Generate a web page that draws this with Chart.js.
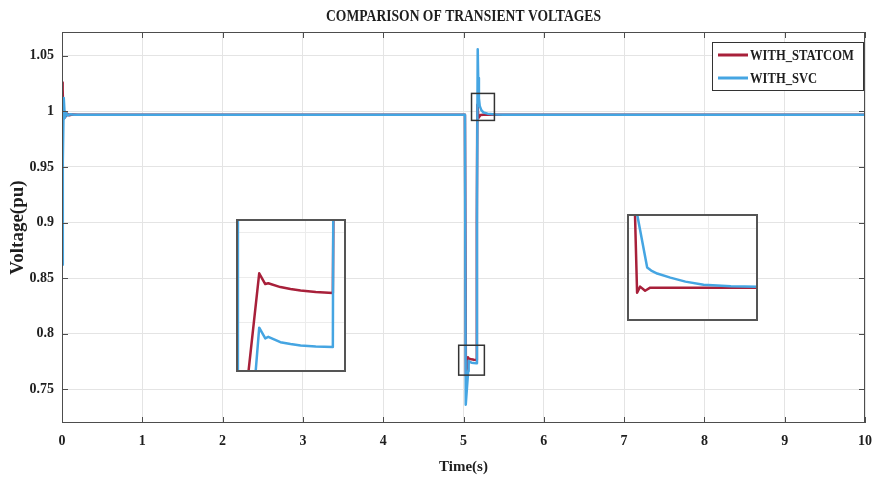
<!DOCTYPE html>
<html><head><meta charset="utf-8">
<script src="https://cdn.jsdelivr.net/npm/chart.js@4.4.1/dist/chart.umd.min.js"></script>
<style>
html,body{margin:0;padding:0;background:#fff;}
#wrap{position:relative;width:882px;height:481px;overflow:hidden;}
#main{position:absolute;left:0;top:0;}
#insetA{position:absolute;left:236px;top:219px;}
#insetB{position:absolute;left:627px;top:214px;}
</style></head><body>
<div id="wrap">
<canvas id="main" width="882" height="481"></canvas>
<canvas id="insetA" width="110" height="153"></canvas>
<canvas id="insetB" width="131" height="107"></canvas>
</div>
<script>
// ---------- data ----------
const chartTitle = 'COMPARISON OF TRANSIENT VOLTAGES';
const seriesNames = ['WITH_STATCOM', 'WITH_SVC'];
const xTitle = 'Time(s)';
const yTitle = 'Voltage(pu)';
const xTicks = [0, 1, 2, 3, 4, 5, 6, 7, 8, 9, 10];
const yTicks = [0.75, 0.8, 0.85, 0.9, 0.95, 1, 1.05];

const tStatcom = [0, 0.008, 0.018, 0.03, 0.045, 0.065, 0.09, 0.13, 0.2, 1, 2, 3, 4, 5.018, 5.03, 5.045, 5.056, 5.064, 5.07, 5.1, 5.13, 5.16, 5.166, 5.172, 5.178, 5.186, 5.193, 5.2, 5.212, 5.25, 6, 7, 8, 9, 10];
const vStatcom = [1.026, 1.02, 0.993, 1.0, 0.9955, 0.998, 0.9965, 0.9972, 0.997, 0.997, 0.997, 0.997, 0.997, 0.997, 0.762, 0.772, 0.7787, 0.7772, 0.7774, 0.7768, 0.7764, 0.7762, 0.9, 1.006, 1.002, 0.9945, 0.9965, 0.9955, 0.9968, 0.997, 0.997, 0.997, 0.997, 0.997, 0.997];

const tSvc = [0, 0.01, 0.022, 0.035, 0.05, 0.07, 0.1, 0.15, 0.25, 1, 2, 3, 4, 5.018, 5.028, 5.058, 5.064, 5.07, 5.077, 5.1, 5.13, 5.16, 5.168, 5.177, 5.183, 5.192, 5.202, 5.222, 5.25, 5.3, 5.4, 5.5, 6, 7, 8, 9, 10];
const vSvc = [0.862, 0.955, 1.012, 0.994, 0.999, 0.9963, 0.9975, 0.997, 0.997, 0.997, 0.997, 0.997, 0.997, 0.997, 0.736, 0.766, 0.7755, 0.7742, 0.7745, 0.7738, 0.7735, 0.7733, 0.92, 1.056, 1.03, 1.012, 1.005, 1.0012, 0.999, 0.998, 0.9973, 0.997, 0.997, 0.997, 0.997, 0.997, 0.997];

// inset A: magnified fault period
const insetAxRange = [5.0, 5.2];
const insetAyRange = [0.765, 0.785];
const tInsetAStatcom = [5.015, 5.0422, 5.0532, 5.0587, 5.0807, 5.0991, 5.1174, 5.145, 5.1761, 5.1775];
const vInsetAStatcom = [0.760, 0.7779, 0.7765, 0.7766, 0.7761, 0.77585, 0.77565, 0.77546, 0.77533, 0.790];
const tInsetASvc = [5.003, 5.0035, 5.03, 5.0422, 5.0532, 5.0587, 5.0807, 5.0991, 5.1174, 5.145, 5.1761, 5.177];
const vInsetASvc = [0.790, 0.760, 0.760, 0.7708, 0.7694, 0.7696, 0.7689, 0.76866, 0.76846, 0.76833, 0.76827, 0.790];
const insetAGridX = [5.1266];
const insetAGridY = [0.7715, 0.7774, 0.7833];

// inset B: magnified recovery
const insetBxRange = [5.15, 5.45];
const insetByRange = [0.99, 1.01];
const tInsetBStatcom = [5.165, 5.1731, 5.18, 5.1915, 5.2031, 5.26, 5.45];
const vInsetBStatcom = [1.02, 0.99528, 0.99642, 0.99566, 0.99623, 0.99623, 0.99623];
const tInsetBSvc = [5.1708, 5.1731, 5.1962, 5.2054, 5.2192, 5.2492, 5.2838, 5.3254, 5.3877, 5.45];
const vInsetBSvc = [1.011, 1.01, 1.0, 0.99943, 0.99887, 0.99811, 0.99736, 0.99679, 0.99651, 0.99642];
const insetBGridX = [5.337];
const insetBGridY = [0.99887, 1.00736];

// zoom markers [tMin, tMax, vMin, vMax]
const zoomBoxFault = [4.94, 5.26, 0.7626, 0.7895];
const zoomBoxRecovery = [5.10, 5.385, 0.9919, 1.0162];

// ---------- styling ----------
const SERIF = "'Liberation Serif', 'Times New Roman', serif";
const RED = '#a8203a';
const BLUE = '#45a5e2';
const TEXT = '#1e1e1e';

function pts(t, v) { return t.map((x, i) => ({ x: x, y: v[i] })); }

function condensedText(ctx, text, x, y, sx) {
  ctx.save();
  ctx.translate(x, y);
  ctx.scale(sx, 1);
  ctx.fillText(text, 0, 0);
  ctx.restore();
}

const framePlugin = {
  id: 'frame',
  afterDraw(chart) {
    const ctx = chart.ctx, a = chart.chartArea, x = chart.scales.x, y = chart.scales.y;
    ctx.save();
    ctx.strokeStyle = '#4d4d4d'; ctx.lineWidth = 1;
    ctx.strokeRect(a.left + 0.5, a.top + 0.5, a.width - 1, a.height - 1);
    ctx.beginPath();
    xTicks.forEach(v => {
      const px = Math.round(x.getPixelForValue(v)) + 0.5;
      ctx.moveTo(px, a.top); ctx.lineTo(px, a.top + 6);
      ctx.moveTo(px, a.bottom); ctx.lineTo(px, a.bottom - 6);
    });
    yTicks.forEach(v => {
      const py = Math.round(y.getPixelForValue(v)) + 0.5;
      ctx.moveTo(a.left, py); ctx.lineTo(a.left + 6, py);
      ctx.moveTo(a.right, py); ctx.lineTo(a.right - 6, py);
    });
    ctx.stroke();
    // zoom markers
    ctx.strokeStyle = '#333'; ctx.lineWidth = 1.5;
    [zoomBoxFault, zoomBoxRecovery].forEach(b => {
      const x0 = x.getPixelForValue(b[0]), x1 = x.getPixelForValue(b[1]);
      const y0 = y.getPixelForValue(b[3]), y1 = y.getPixelForValue(b[2]);
      ctx.strokeRect(x0, y0, x1 - x0, y1 - y0);
    });
    // title
    ctx.fillStyle = TEXT;
    ctx.font = "bold 17px " + SERIF;
    ctx.textAlign = 'center'; ctx.textBaseline = 'middle';
    condensedText(ctx, chartTitle, (a.left + a.right) / 2, 17, 0.8);
    // legend
    const lx = 712, ly = 42, lw = 151, lh = 48;
    ctx.fillStyle = '#fff'; ctx.fillRect(lx, ly, lw, lh);
    ctx.strokeStyle = '#333'; ctx.lineWidth = 1;
    ctx.strokeRect(lx + 0.5, ly + 0.5, lw, lh);
    ctx.font = "bold 15px " + SERIF;
    ctx.textAlign = 'left';
    chart.data.datasets.forEach((ds, i) => {
      const yy = 55 + i * 23;
      ctx.strokeStyle = ds.borderColor; ctx.lineWidth = 3;
      ctx.beginPath(); ctx.moveTo(718, yy); ctx.lineTo(748, yy); ctx.stroke();
      ctx.fillStyle = TEXT;
      condensedText(ctx, ds.label, 750, yy + 1, 0.84);
    });
    ctx.restore();
  }
};

new Chart(document.getElementById('main'), {
  type: 'line',
  data: {
    datasets: [
      { label: seriesNames[0], data: pts(tStatcom, vStatcom), borderColor: RED, borderWidth: 2.5, pointRadius: 0, order: 2 },
      { label: seriesNames[1], data: pts(tSvc, vSvc), borderColor: BLUE, borderWidth: 2.5, pointRadius: 0, order: 1 }
    ]
  },
  options: {
    responsive: false, animation: false, devicePixelRatio: 1,
    layout: { padding: { top: 32, right: 16, left: 0, bottom: 0 } },
    elements: { line: { tension: 0, borderJoinStyle: 'round', borderCapStyle: 'round' } },
    plugins: { legend: { display: false }, title: { display: false }, tooltip: { enabled: false } },
    scales: {
      x: {
        type: 'linear', min: 0, max: 10,
        afterBuildTicks: s => { s.ticks = xTicks.map(v => ({ value: v })); },
        afterFit: s => { s.height = 58; },
        grid: { color: '#e4e4e4', drawTicks: false },
        border: { display: false },
        ticks: { autoSkip: false, maxRotation: 0, padding: 10, color: TEXT, font: { family: SERIF, size: 14, weight: 'bold' }, callback: v => String(v) },
        title: { display: true, text: xTitle, color: TEXT, font: { family: SERIF, size: 15, weight: 'bold' }, padding: { top: 0, bottom: 5 } }
      },
      y: {
        type: 'linear', min: 0.7195, max: 1.0715,
        afterBuildTicks: s => { s.ticks = yTicks.map(v => ({ value: v })); },
        afterFit: s => { s.width = 62; },
        grid: { color: '#e4e4e4', drawTicks: false },
        border: { display: false },
        ticks: { autoSkip: false, padding: 8, color: TEXT, font: { family: SERIF, size: 14, weight: 'bold' }, callback: v => String(+Number(v).toFixed(2)) },
        title: { display: true, text: yTitle, color: TEXT, font: { family: SERIF, size: 19, weight: 'bold' }, padding: { top: 7, bottom: 0 } }
      }
    }
  },
  plugins: [framePlugin]
});

function makeInset(id, tA, vA, tB, vB, xr, yr, gx, gy) {
  new Chart(document.getElementById(id), {
    type: 'line',
    data: {
      datasets: [
        { data: pts(tA, vA), borderColor: RED, borderWidth: 2.5, pointRadius: 0, order: 2 },
        { data: pts(tB, vB), borderColor: BLUE, borderWidth: 2.5, pointRadius: 0, order: 1 }
      ]
    },
    options: {
      responsive: false, animation: false, devicePixelRatio: 1,
      layout: { padding: 0 },
      elements: { line: { tension: 0, borderJoinStyle: 'round' } },
      plugins: { legend: { display: false }, tooltip: { enabled: false } },
      scales: {
        x: { type: 'linear', min: xr[0], max: xr[1],
             afterBuildTicks: s => { s.ticks = gx.map(v => ({ value: v })); },
             afterFit: s => { s.height = 0; },
             ticks: { display: false }, grid: { color: '#ececec', drawTicks: false }, border: { display: false } },
        y: { type: 'linear', min: yr[0], max: yr[1],
             afterBuildTicks: s => { s.ticks = gy.map(v => ({ value: v })); },
             afterFit: s => { s.width = 0; },
             ticks: { display: false }, grid: { color: '#ececec', drawTicks: false }, border: { display: false } }
      }
    },
    plugins: [{
      id: 'insetBox',
      beforeDraw(c) { const ctx = c.ctx; ctx.save(); ctx.fillStyle = '#fff'; ctx.fillRect(0, 0, c.width, c.height); ctx.restore(); },
      afterDraw(c) { const ctx = c.ctx, a = c.chartArea; ctx.save(); ctx.strokeStyle = '#555'; ctx.lineWidth = 2; ctx.strokeRect(a.left + 1, a.top + 1, a.width - 2, a.height - 2); ctx.restore(); }
    }]
  });
}

makeInset('insetA', tInsetAStatcom, vInsetAStatcom, tInsetASvc, vInsetASvc, insetAxRange, insetAyRange, insetAGridX, insetAGridY);
makeInset('insetB', tInsetBStatcom, vInsetBStatcom, tInsetBSvc, vInsetBSvc, insetBxRange, insetByRange, insetBGridX, insetBGridY);
</script>
</body></html>
